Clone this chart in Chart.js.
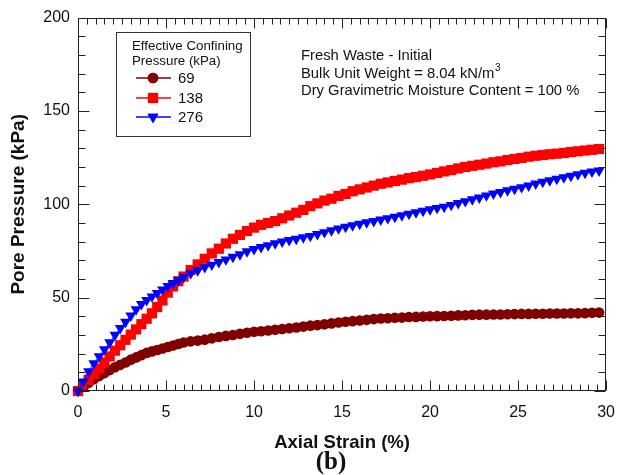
<!DOCTYPE html>
<html>
<head>
<meta charset="utf-8">
<script src="https://cdn.jsdelivr.net/npm/chart.js@4.4.0/dist/chart.umd.min.js"></script>
<style>
  html, body { margin: 0; padding: 0; background: #fff; }
  canvas { display: block; }
</style>
</head>
<body>
<canvas id="chart" width="627" height="475"></canvas>
<script>
// Axial strain (%) at which readings were taken
const strain = [
  0, 0.3, 0.6, 0.9, 1.2, 1.5, 1.8, 2.1, 2.4, 2.7, 3.0, 3.3, 3.6, 3.9, 4.2, 4.5, 4.8, 5.1, 5.4, 5.7, 6.0,
  6.4, 6.8, 7.2, 7.6, 8.0, 8.4, 8.8, 9.2, 9.6, 10.0, 10.4, 10.8, 11.2, 11.6, 12.0, 12.4, 12.8, 13.2, 13.6,
  14.0, 14.4, 14.8, 15.2, 15.6, 16.0, 16.4, 16.8, 17.2, 17.6, 18.0, 18.4, 18.8, 19.2, 19.6, 20.0, 20.4, 20.8,
  21.2, 21.6, 22.0, 22.4, 22.8, 23.2, 23.6, 24.0, 24.4, 24.8, 25.2, 25.6, 26.0, 26.4, 26.8, 27.2, 27.6, 28.0,
  28.4, 28.8, 29.2, 29.6
];

// Pore pressure (kPa) for each confining pressure
const pore69 = [
  0, 2.2, 4.3, 6.3, 8.0, 9.6, 11.2, 12.7, 14.0, 15.3, 16.8, 18.0, 19.2, 20.4, 21.2, 22.0, 22.8, 23.6, 24.4, 25.2, 26.0,
  26.6, 27.0, 27.5, 28.2, 28.9, 29.5, 30.0, 30.6, 31.2, 31.7, 32.0, 32.4, 32.8, 33.2, 33.6, 34.0, 34.5, 35.0, 35.3,
  35.7, 36.2, 36.7, 37.1, 37.4, 37.8, 38.1, 38.5, 38.8, 39.0, 39.2, 39.3, 39.6, 39.7, 39.9, 40.0, 40.1, 40.2,
  40.3, 40.5, 40.6, 40.8, 40.9, 40.9, 41.0, 41.0, 41.1, 41.2, 41.3, 41.3, 41.4, 41.4, 41.5, 41.5, 41.5, 41.6,
  41.6, 41.7, 41.9, 42.0
];
const pore138 = [
  0, 3.0, 6.0, 9.0, 12.0, 15.3, 18.5, 21.6, 24.5, 27.4, 30.2, 33.0, 35.8, 38.7, 41.6, 45.0, 48.5, 52.7, 56.0, 58.8, 61.3,
  64.8, 67.8, 70.8, 73.7, 76.2, 79.0, 81.5, 83.6, 85.7, 87.5, 89.0, 90.0, 91.0, 92.5, 94.0, 95.5, 97.0, 99.0, 100.5,
  102.0, 103.0, 104.5, 105.5, 107.0, 108.0, 109.0, 110.0, 111.0, 111.7, 112.5, 113.2, 114.0, 114.6, 115.3, 116.0, 116.8, 117.6,
  118.3, 119.2, 120.0, 120.6, 121.2, 121.8, 122.5, 123.0, 123.7, 124.3, 124.8, 125.5, 126.0, 126.4, 126.8, 127.1, 127.5, 128.0,
  128.4, 128.8, 129.2, 129.6
];
const pore276 = [
  0, 5.0, 10.5, 14.8, 18.5, 22.3, 26.0, 30.0, 33.7, 37.0, 40.3, 43.7, 46.5, 48.7, 50.6, 52.4, 54.3, 56.2, 57.7, 59.2, 61.0,
  63.0, 64.6, 66.3, 67.6, 69.0, 70.4, 71.8, 73.2, 74.8, 76.0, 77.0, 78.0, 79.0, 80.0, 80.8, 81.5, 82.3, 83.0, 84.0,
  85.0, 86.0, 87.0, 87.9, 88.7, 89.5, 90.3, 91.0, 91.8, 92.5, 93.2, 94.0, 94.8, 95.7, 96.5, 97.3, 98.0, 98.6,
  99.6, 100.6, 101.6, 102.6, 103.6, 104.7, 105.7, 106.5, 107.4, 108.2, 109.1, 110.0, 111.0, 112.0, 112.8, 113.6, 114.4, 115.2,
  116.0, 116.8, 117.5, 118.0
];

const seriesLabels = ['69', '138', '276'];
const xTicks = [0, 5, 10, 15, 20, 25, 30];
const yTicks = [0, 50, 100, 150, 200];
const legendTitle = ['Effective Confining', 'Pressure (kPa)'];
const noteLines = ['Fresh Waste - Initial', 'Bulk Unit Weight = 8.04 kN/m', 'Dry Gravimetric Moisture Content = 100 %'];

const SANS = 'Arial, "Liberation Sans", Helvetica, sans-serif';

function pts(ys) {
  return strain.map((s, i) => ({ x: s, y: ys[i] }));
}

// frame with inward ticks on all four sides
function drawFrame(chart) {
  const { ctx, chartArea: a, scales: { x, y } } = chart;
  const L = Math.round(a.left) + 0.5, R = Math.round(a.right) - 0.5;
  const T = Math.round(a.top) + 0.5, B = Math.round(a.bottom) - 0.5;
  ctx.save();
  ctx.strokeStyle = '#222';
  ctx.lineWidth = 1;
  for (let i = 0; i <= 60; i++) {
    const v = i * 0.5;
    const px = Math.round(x.getPixelForValue(v)) + 0.5;
    const len = i % 10 === 0 ? 10 : 6;
    ctx.beginPath();
    ctx.moveTo(px, B); ctx.lineTo(px, B - len);
    ctx.moveTo(px, T); ctx.lineTo(px, T + len);
    ctx.stroke();
  }
  for (let i = 0; i <= 20; i++) {
    const v = i * 10;
    const py = Math.round(y.getPixelForValue(v)) + 0.5;
    const len = i % 5 === 0 ? 11 : 7;
    ctx.beginPath();
    ctx.moveTo(L, py); ctx.lineTo(L + len, py);
    ctx.moveTo(R, py); ctx.lineTo(R - len, py);
    ctx.stroke();
  }
  ctx.strokeRect(L, T, R - L, B - T);
  ctx.restore();
}

const frame = {
  id: 'frame',
  afterDraw(chart) {
    drawFrame(chart);
    const { ctx } = chart;
    ctx.save();
    ctx.fillStyle = '#111';
    ctx.textBaseline = 'middle';

    // annotation
    ctx.font = '14.8px ' + SANS;
    ctx.textAlign = 'left';
    ctx.fillText(noteLines[0], 301, 56);
    ctx.fillText(noteLines[1], 301, 74);
    const w = ctx.measureText(noteLines[1]).width;
    ctx.font = '10px ' + SANS;
    ctx.fillText('3', 301 + w + 0.5, 68);
    ctx.font = '14.8px ' + SANS;
    ctx.fillText(noteLines[2], 301, 91);

    // legend box
    ctx.strokeStyle = '#333';
    ctx.lineWidth = 1;
    ctx.strokeRect(116.5, 32.5, 134, 104);
    ctx.font = '13.3px ' + SANS;
    ctx.fillText(legendTitle[0], 132, 46);
    ctx.fillText(legendTitle[1], 132, 61);
    const rows = [78, 98, 117];
    const order = [2, 1, 0];
    order.forEach((di, k) => {
      const ds = chart.data.datasets[di];
      const yy = rows[k];
      ctx.strokeStyle = ds.borderColor;
      ctx.lineWidth = 1.5;
      ctx.beginPath();
      ctx.moveTo(136, yy); ctx.lineTo(171, yy);
      ctx.stroke();
      ctx.fillStyle = ds.backgroundColor;
      Chart.helpers.drawPoint(ctx, {
        pointStyle: ds.pointStyle, radius: ds.pointRadius, rotation: ds.pointRotation || 0, borderWidth: 0
      }, 153, yy);
      ctx.fill();
      ctx.fillStyle = '#111';
      ctx.font = '15px ' + SANS;
      ctx.fillText(ds.label, 178, yy + 1);
    });

    // panel label
    ctx.font = 'bold 25px "Liberation Serif", "Times New Roman", serif';
    ctx.textAlign = 'center';
    ctx.fillText('(b)', 331, 463);
    ctx.restore();
  }
};

new Chart(document.getElementById('chart'), {
  type: 'line',
  data: {
    datasets: [
      {
        label: seriesLabels[2], data: pts(pore276), order: 0,
        borderColor: '#0000ff', backgroundColor: '#0000ff', borderWidth: 1,
        pointStyle: 'triangle', pointRotation: 180, pointRadius: 6.3, pointBorderWidth: 0
      },
      {
        label: seriesLabels[1], data: pts(pore138), order: 1,
        borderColor: '#ff0000', backgroundColor: '#ff0000', borderWidth: 1,
        pointStyle: 'rect', pointRadius: 7.2, pointBorderWidth: 0
      },
      {
        label: seriesLabels[0], data: pts(pore69), order: 2,
        borderColor: '#800000', backgroundColor: '#800000', borderWidth: 1,
        pointStyle: 'circle', pointRadius: 5.3, pointBorderWidth: 0
      }
    ]
  },
  options: {
    responsive: false,
    animation: false,
    clip: false,
    layout: { padding: { left: 0, right: 12, top: 17, bottom: 0 } },
    plugins: { legend: { display: false }, tooltip: { enabled: false } },
    scales: {
      x: {
        type: 'linear', min: 0, max: 30,
        afterFit(s) { s.height = 84; },
        afterBuildTicks(s) { s.ticks = xTicks.map(v => ({ value: v })); },
        grid: { display: false, drawTicks: false },
        border: { display: false },
        ticks: { color: '#111', padding: 12, font: { family: SANS, size: 16 } },
        title: {
          display: true, text: 'Axial Strain (%)', color: '#111',
          font: { family: SANS, size: 18.5, weight: 'bold' }, padding: { top: 0, bottom: 21 }
        }
      },
      y: {
        type: 'linear', min: 0, max: 200,
        afterFit(s) { s.width = 78; },
        afterBuildTicks(s) { s.ticks = yTicks.map(v => ({ value: v })); },
        grid: { display: false, drawTicks: false },
        border: { display: false },
        ticks: { color: '#111', padding: 8, font: { family: SANS, size: 16 } },
        title: {
          display: true, text: 'Pore Pressure (kPa)', color: '#111',
          font: { family: SANS, size: 19, weight: 'bold' }, padding: { top: 7, bottom: 0 }
        }
      }
    }
  },
  plugins: [frame]
});
</script>
</body>
</html>
